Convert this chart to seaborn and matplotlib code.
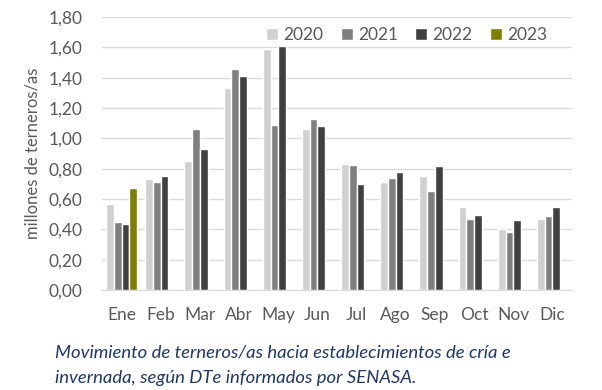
import pandas as pd
import numpy as np
import matplotlib.pyplot as plt
import seaborn as sns

meses = ['Ene', 'Feb', 'Mar', 'Abr', 'May', 'Jun', 'Jul', 'Ago', 'Sep', 'Oct', 'Nov', 'Dic']
anios = ['2020', '2021', '2022', '2023']

v2020 = [0.57, 0.73, 0.85, 1.33, 1.59, 1.06, 0.83, 0.71, 0.75, 0.545, 0.40, 0.465]
v2021 = [0.45, 0.71, 1.06, 1.455, 1.09, 1.125, 0.825, 0.74, 0.65, 0.47, 0.385, 0.49]
v2022 = [0.435, 0.75, 0.93, 1.41, 1.61, 1.08, 0.70, 0.775, 0.815, 0.495, 0.46, 0.545]
v2023 = [0.67] + [np.nan] * 11

colores = ['#D0D0D0', '#7F7F7F', '#404040', '#7F7F00']

df = pd.DataFrame({'mes': meses, '2020': v2020, '2021': v2021, '2022': v2022, '2023': v2023})
df = df.melt(id_vars='mes', var_name='anio', value_name='valor')

sns.set_style('white')
plt.rcParams['font.family'] = ['Lato', 'DejaVu Sans']

fig = plt.figure(figsize=(6.02, 3.9), dpi=100)
ax = fig.add_axes([102 / 602, 1 - 290 / 390, 470 / 602, 273 / 390])

sns.barplot(data=df, x='mes', y='valor', hue='anio', hue_order=anios,
            palette=colores, width=0.79, gap=0, ax=ax, saturation=1, legend=True)

ax.set_ylim(0, 1.8)
ax.set_xlim(-0.5, 11.5)
ax.set_yticks(np.arange(0, 1.81, 0.2))
ax.set_yticklabels([f'{t:.2f}'.replace('.', ',') for t in np.arange(0, 1.81, 0.2)])
ax.grid(axis='y', color='#D9D9D9', linewidth=1)
ax.set_axisbelow(True)
for s in ['top', 'right', 'left']:
    ax.spines[s].set_visible(False)
ax.spines['bottom'].set_color('#D9D9D9')
ax.tick_params(axis='both', colors='#595959', labelsize=12.5, length=0)
ax.tick_params(axis='y', pad=14)
ax.tick_params(axis='x', pad=12)
ax.set_xlabel('')
ax.set_ylabel('millones de terneros/as', color='#595959', fontsize=12, labelpad=6)

ax.legend(loc='upper right', bbox_to_anchor=(0.97, 1.0), ncol=4, frameon=False,
          handlelength=0.7, handleheight=0.7, handletextpad=0.3, columnspacing=1.0,
          fontsize=12.5, labelcolor='#595959', borderaxespad=0.2)

fig.text(55 / 602, 1 - 352 / 390, 'Movimiento de terneros/as hacia establecimientos de cría e',
         fontsize=13.3, style='italic', color='#1F3864', va='center')
fig.text(55 / 602, 1 - 378 / 390, 'invernada, según DTe informados por SENASA.',
         fontsize=13.3, style='italic', color='#1F3864', va='center')

fig.savefig('out.png', dpi=100)
